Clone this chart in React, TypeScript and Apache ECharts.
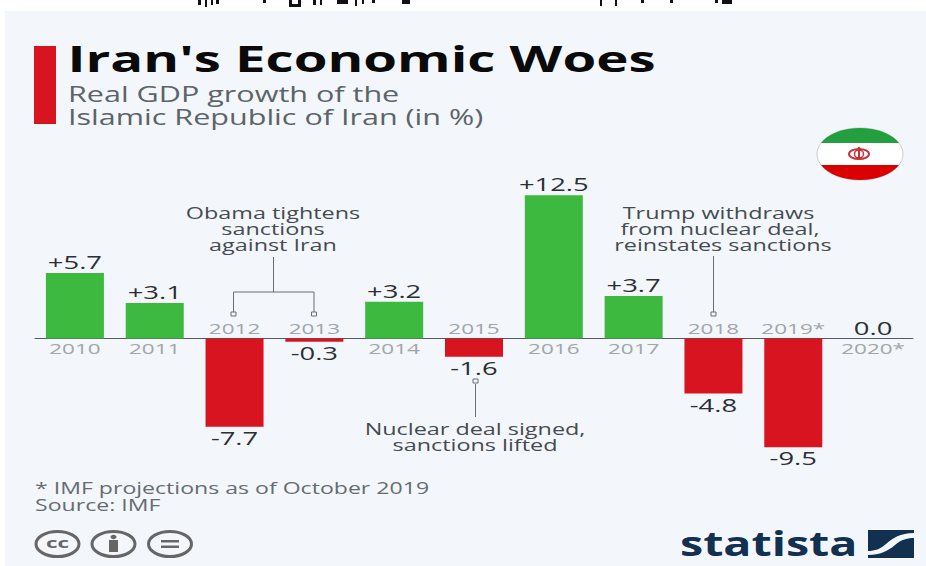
import React, { useEffect, useRef } from "react";
import * as echarts from "echarts";

const years = ["2010", "2011", "2012", "2013", "2014", "2015", "2016", "2017", "2018", "2019*", "2020*"];
const growth = [5.7, 3.1, -7.7, -0.3, 3.2, -1.6, 12.5, 3.7, -4.8, -9.5, 0.0];
const valueLabels = ["+5.7", "+3.1", "-7.7", "-0.3", "+3.2", "-1.6", "+12.5", "+3.7", "-4.8", "-9.5", "0.0"];

const FONT = '"Open Sans", sans-serif';
const GREEN = "#3cb93e";
const RED = "#d7141f";
const NAVY = "#12304f";

function reg(name: string, d: string) {
  echarts.graphic.registerShape(name, echarts.graphic.extendPath(d as any, {} as any) as any);
}
reg("flagGreen", "M821 143 A43 26 0 0 1 899 143 Z");
reg("flagRed", "M821 165 A43 26 0 0 0 899 165 Z");
reg("logoTop", "M868 530 H914 V533 C900 533 893 538 886 544 C880 549 875 551 868 551 Z");
reg("logoBottom", "M914 538 V558 H868 V555 C880 555 888 551 895 545 C901 540 906 538 914 538 Z");
reg("clipped", "M198 0h3v5h-3z M205 0h2v7h-2z M211 0h2v5h-2z M216 0h3v4h-3z M263 0h3v3h-3z M289 0h3v4h6v-4h3v7h-12z M313 0h3v5h-3z M320 0h2v5h-2z M337 0h11v4h-11z M355 0h2v6h-2z M362 0h2v4h-2z M372 0h3v3h-3z M402 0h8v4h-8z M600 0h2v6h-2z M615 0h2v6h-2z M641 0h3v3h-3z M670 0h3v3h-3z M715 0h3v3h-3z M722 0h10v4h-10z");

function txt(text: string, x: number, y: number, size: number, sx: number, fill: string, align = "center", weight: any = "normal") {
  return {
    type: "text",
    x,
    y,
    scaleX: sx,
    silent: true,
    style: {
      text,
      fill,
      fontFamily: FONT,
      fontSize: size,
      fontWeight: weight,
      align,
      verticalAlign: "middle",
      textAlign: align,
      textVerticalAlign: "middle",
    },
  };
}

function line(x1: number, y1: number, x2: number, y2: number, stroke = "#6a6f73", lineWidth = 1) {
  return { type: "line", silent: true, shape: { x1, y1, x2, y2 }, style: { stroke, lineWidth } };
}
function marker(x: number, y: number) {
  return { type: "rect", silent: true, shape: { x: x - 2.5, y: y - 2, width: 5, height: 4 }, style: { fill: "#f3f7fb", stroke: "#6a6f73", lineWidth: 1 } };
}

const ANN = "#454b50";
const ANN_SX = 1.51;
const decorations: any[] = [
  { type: "rect", silent: true, shape: { x: 5, y: 11, width: 921, height: 555 }, style: { fill: "#f3f7fb" } },
  { type: "clipped", silent: true, style: { fill: "#111" } },
  { type: "rect", silent: true, shape: { x: 34, y: 46, width: 22, height: 78 }, style: { fill: RED } },
  txt("Iran's Economic Woes", 67.5, 58, 35, 1.56, "#0a0a0a", "left", "bold"),
  txt("Real GDP growth of the", 68, 94, 21, 1.455, "#5c6469", "left"),
  txt("Islamic Republic of Iran (in %)", 68, 117, 21, 1.455, "#5c6469", "left"),

  { type: "ellipse", silent: true, shape: { cx: 860, cy: 154, rx: 43, ry: 26 }, style: { fill: "#fff", stroke: "#c9cdd0", lineWidth: 1 } },
  { type: "flagGreen", silent: true, style: { fill: "#239f40" } },
  { type: "flagRed", silent: true, style: { fill: "#da0000" } },
  { type: "ellipse", silent: true, shape: { cx: 859, cy: 154, rx: 10, ry: 5 }, style: { fill: "none", stroke: "#c8323a", lineWidth: 2 } },
  { type: "ellipse", silent: true, shape: { cx: 859, cy: 154, rx: 4.5, ry: 4 }, style: { fill: "none", stroke: "#c8323a", lineWidth: 1.5 } },
  line(859, 147, 859, 160, "#c8323a", 2),

  txt("Obama tightens", 273, 213, 15.5, ANN_SX, ANN),
  txt("sanctions", 273, 229, 15.5, ANN_SX, ANN),
  txt("against Iran", 273, 245, 15.5, ANN_SX, ANN),
  line(273.5, 257, 273.5, 292),
  line(233.5, 292, 314, 292),
  line(233.5, 292, 233.5, 312),
  line(314, 292, 314, 312),
  marker(233.5, 314),
  marker(314, 314),

  txt("Trump withdraws", 718.5, 213, 15.5, ANN_SX, ANN),
  txt("from nuclear deal,", 720, 229, 15.5, ANN_SX, ANN),
  txt("reinstates sanctions", 723, 245, 15.5, ANN_SX, ANN),
  line(713.5, 256, 713.5, 312),
  marker(713.5, 314),

  line(475.5, 384, 475.5, 417),
  marker(475.5, 381),
  txt("Nuclear deal signed,", 475, 429, 15.5, ANN_SX, ANN),
  txt("sanctions lifted", 475, 445, 15.5, ANN_SX, ANN),

  txt("* IMF projections as of October 2019", 35, 488, 15.5, 1.49, "#666c70", "left"),
  txt("Source: IMF", 35, 505, 15.5, 1.49, "#666c70", "left"),

  { type: "ellipse", silent: true, shape: { cx: 57.5, cy: 544, rx: 21.5, ry: 12.5 }, style: { fill: "none", stroke: "#666", lineWidth: 3 } },
  txt("cc", 57.5, 543, 15, 1.5, "#666", "center", "bold"),
  { type: "ellipse", silent: true, shape: { cx: 113.5, cy: 544, rx: 21.5, ry: 12.5 }, style: { fill: "none", stroke: "#666", lineWidth: 3 } },
  { type: "ellipse", silent: true, shape: { cx: 113.5, cy: 537, rx: 3, ry: 2.2 }, style: { fill: "#666" } },
  { type: "rect", silent: true, shape: { x: 109, y: 540, width: 9, height: 12 }, style: { fill: "#666" } },
  { type: "ellipse", silent: true, shape: { cx: 170, cy: 544, rx: 21.5, ry: 12.5 }, style: { fill: "none", stroke: "#666", lineWidth: 3 } },
  { type: "rect", silent: true, shape: { x: 161, y: 540, width: 18, height: 2.5 }, style: { fill: "#666" } },
  { type: "rect", silent: true, shape: { x: 161, y: 545.5, width: 18, height: 2.5 }, style: { fill: "#666" } },

  txt("statista", 680, 543, 34, 1.37, NAVY, "left", "bold"),
  { type: "logoTop", silent: true, style: { fill: NAVY } },
  { type: "logoBottom", silent: true, style: { fill: NAVY } },
];

export default function App() {
  const ref = useRef<HTMLDivElement>(null);
  useEffect(() => {
    const chart = echarts.init(ref.current!, undefined, { renderer: "svg" });
    chart.setOption({
      animation: false,
      backgroundColor: "#ffffff",
      graphic: { elements: decorations.map((e, i) => ({ ...e, z: i < 2 ? -10 : 10 })) },
      grid: { left: 35, width: 878, top: 178, height: 275 },
      xAxis: {
        type: "category",
        data: years,
        axisLine: { onZero: true, lineStyle: { color: "#555b60", width: 1 } },
        axisTick: { show: false },
        axisLabel: { show: false },
      },
      yAxis: { type: "value", min: -10, max: 14, show: false },
      series: [
        {
          type: "bar",
          data: growth.map((v) => ({ value: v, itemStyle: { color: v >= 0 ? GREEN : RED } })),
          barWidth: 58,
          silent: true,
        },
        {
          type: "custom",
          silent: true,
          z: 5,
          coordinateSystem: "cartesian2d",
          data: growth.map((v, i) => [i, v]),
          renderItem: (_p: any, api: any) => {
            const i = api.value(0);
            const v = api.value(1);
            const pt = api.coord([i, v]);
            const zero = api.coord([i, 0]);
            const above = v >= 0;
            return {
              type: "group",
              children: [
                txt(valueLabels[i], pt[0], pt[1] + (above ? -11 : 11), 18.5, 1.48, "#2b2f33"),
                txt(years[i], zero[0], zero[1] + (above ? 10 : -10), 15, 1.5, "#a2a5a8"),
              ],
            };
          },
        },
      ],
    });
    return () => chart.dispose();
  }, []);
  return <div ref={ref} style={{ position: "fixed", left: 0, top: 0, width: 926, height: 566 }} />;
}
